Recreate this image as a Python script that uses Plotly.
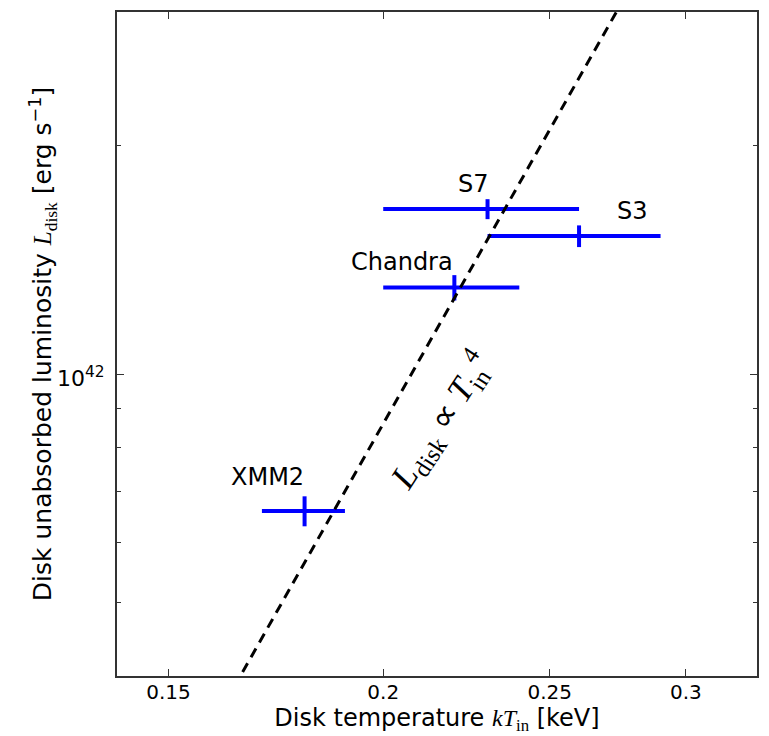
import numpy as np
import plotly.graph_objects as go

# Disk fits: inner-disk temperature (keV) with range, and unabsorbed disk luminosity (erg/s)
names = ["S7", "S3", "Chandra", "XMM2"]
kT = [0.23, 0.26, 0.22, 0.18]
kT_lo = [0.20, 0.23, 0.20, 0.17]
kT_hi = [0.26, 0.29, 0.24, 0.19]
L_disk = [1.65e42, 1.52e42, 1.30e42, 6.6e41]
L_err = [0.05e42, 0.05e42, 0.05e42, 0.03e42]

# L ∝ T^4 reference relation, normalised at 0.2 keV
T_ref = 0.2
L_ref = 8.6e41
T_model = [0.14, 0.33]

x_ticks = [0.15, 0.2, 0.25, 0.3]
x_ticktext = ["0.15", "0.2", "0.25", "0.3"]
y_major = [1e42]
y_major_text = ["10<sup>42</sup>"]
y_minor = [4e41, 5e41, 6e41, 7e41, 8e41, 9e41, 2e42, 3e42]

BLUE = "#0000ff"
AXIS = "#333333"
SANS = "DejaVu Sans"
SERIF = "Liberation Serif"

fig = go.Figure()

fig.add_trace(go.Scatter(
    x=kT, y=L_disk, mode="markers",
    marker=dict(size=1, color=BLUE, opacity=0),
    error_x=dict(type="data", symmetric=False,
                 array=[h - v for h, v in zip(kT_hi, kT)],
                 arrayminus=[v - l for v, l in zip(kT, kT_lo)],
                 color=BLUE, thickness=4, width=0),
    error_y=dict(type="data", array=L_err, color=BLUE, thickness=4, width=0),
    hoverinfo="skip",
))

T_line = np.geomspace(T_model[0], T_model[1], 200)
fig.add_trace(go.Scatter(
    x=T_line, y=L_ref * (T_line / T_ref) ** 4, mode="lines",
    line=dict(color="black", width=3, dash="10px,7px"),
    hoverinfo="skip",
))

# point labels, offset from each point in pixels
label_shift = {"S7": (-14, 25), "S3": (53, 25), "Chandra": (-52, 26), "XMM2": (-37, 34)}
for n, x, y in zip(names, kT, L_disk):
    dx, dy = label_shift[n]
    fig.add_annotation(x=np.log10(x), y=np.log10(y), text=n, showarrow=False,
                       xshift=dx, yshift=dy,
                       font=dict(family=SANS, size=24, color="black"))

# power-of-ten labels on the luminosity axis
for v, t in zip(y_major, y_major_text):
    fig.add_annotation(xref="paper", x=0, xanchor="right", xshift=-10,
                       yref="y", y=np.log10(v), yanchor="middle", yshift=-3,
                       text=t, showarrow=False,
                       font=dict(family=SANS, size=22, color="black"))

fig.add_annotation(
    xref="paper", yref="paper", x=0.505, y=0.385,
    text="<i>L</i><sub>disk</sub> ∝ <i>T</i><sub>in</sub><sup>4</sup>",
    textangle=-57, showarrow=False,
    font=dict(family=SERIF, size=35, color="black"),
)

axis_common = dict(
    type="log", showgrid=False, zeroline=False,
    showline=True, linecolor=AXIS, linewidth=2, mirror="ticks",
    ticks="inside", ticklen=7, tickwidth=1, tickcolor=AXIS,
    tickfont=dict(family=SANS, size=20, color="black"),
)

fig.update_xaxes(
    **axis_common,
    range=[np.log10(0.14), np.log10(0.33)],
    tickmode="array", tickvals=x_ticks, ticktext=x_ticktext,
    ticklabelstandoff=-3,
    title=dict(
        text="Disk temperature <span style='font-family:Liberation Serif'><i>kT</i><sub>in</sub></span> [keV]",
        font=dict(family=SANS, size=24, color="black"), standoff=5),
)
fig.update_yaxes(
    **axis_common,
    range=[np.log10(4e41), np.log10(3e42)],
    tickmode="array", tickvals=y_major, showticklabels=False,
    minor=dict(tickmode="array", tickvals=y_minor, ticks="inside", ticklen=4,
               tickwidth=1, tickcolor=AXIS, showgrid=False),
    title=dict(
        text="Disk unabsorbed luminosity <span style='font-family:Liberation Serif'><i>L</i><sub>disk</sub></span> [erg s<sup>−1</sup>]",
        font=dict(family=SANS, size=25, color="black"), standoff=56),
)

fig.update_layout(
    width=769, height=736,
    margin=dict(l=117, r=12, t=10, b=54),
    plot_bgcolor="white", paper_bgcolor="white",
    showlegend=False,
)

fig.write_html("out.html")
